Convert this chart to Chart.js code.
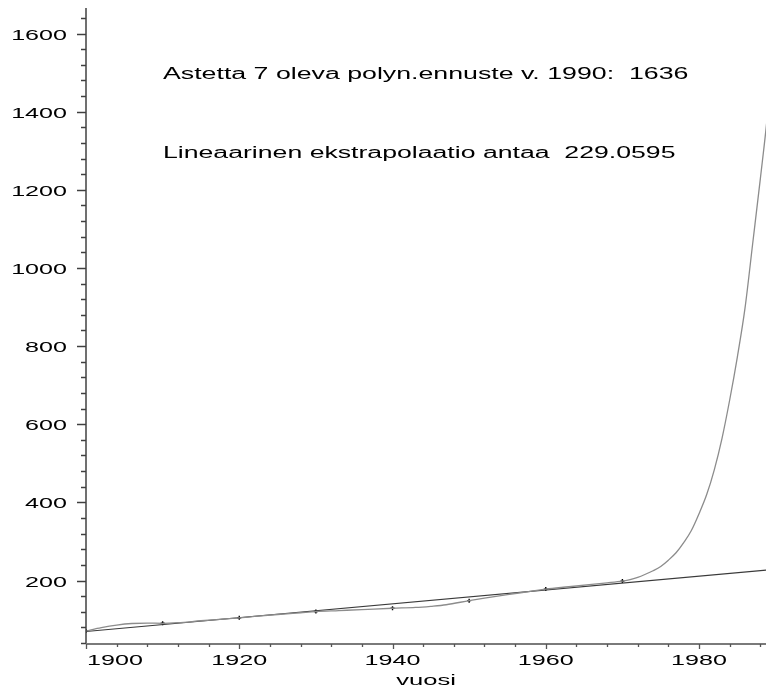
<!DOCTYPE html>
<html>
<head>
<meta charset="utf-8">
<script src="https://cdn.jsdelivr.net/npm/chart.js@4"></script>
<style>
body { margin: 0; background: #fff; overflow: hidden; }
#wrap { position: relative; width: 766px; height: 690px; }
#plot { display: block; }
</style>
</head>
<body>
<div id="wrap"><canvas id="plot"></canvas></div>
<script>
// väestö (milj.) laskentavuosina
const censusYears = [1900, 1910, 1920, 1930, 1940, 1950, 1960, 1970]
const censusValues = [71, 90.5, 104.5, 120.5, 129, 148.5, 178, 198.5]

// asteen 7 polynomi, luettu kuvasta
const polyYears = [1900, 1902, 1904, 1906, 1908, 1910, 1912, 1915, 1918, 1920, 1922, 1925, 1928, 1930,
	1933, 1936, 1940, 1943, 1945, 1947, 1950, 1952, 1955, 1958, 1960, 1963, 1966, 1968, 1970,
	1971, 1972, 1973, 1974, 1975, 1976, 1977, 1978, 1979, 1980, 1981, 1982, 1983, 1984, 1985,
	1986, 1987, 1988, 1989, 1990]
const polyValues = [71, 79.5, 86, 90, 91, 90.5, 92, 97, 101.5, 104.5, 108, 113, 117.5, 120.5,
	123, 125.5, 129, 131, 134, 138, 148.5, 155, 164, 172, 178, 184, 190, 194, 198.5,
	202, 208, 216, 225, 236, 252, 271, 297, 328, 371, 420, 484, 564, 662, 772,
	897, 1062, 1228, 1405, 1636]

// lineaarinen sovitus
const fitYears = [1900, 1990]
const fitValues = [69.5, 229.06]

// akselit
const xTickLabels = [1900, 1920, 1940, 1960, 1980]
const yTickLabels = [200, 400, 600, 800, 1000, 1200, 1400, 1600]
const xTitle = 'vuosi'
const notes = [
	'Astetta 7 oleva polyn.ennuste v. 1990:  1636',
	'Lineaarinen ekstrapolaatio antaa  229.0595',
]

const FONT = '"Liberation Sans", Arial, sans-serif'

function wideText(ctx, text, x, y, align, size, stretch, minLeft) {
	ctx.save()
	ctx.font = `${size}px ${FONT}`
	const w = ctx.measureText(text).width * stretch
	let left = x
	if (align === 'center') left = x - w / 2
	if (align === 'right') left = x - w
	if (minLeft !== undefined && left < minLeft) left = minLeft
	ctx.translate(left, y)
	ctx.scale(stretch, 1)
	ctx.textAlign = 'left'
	ctx.textBaseline = 'alphabetic'
	ctx.fillStyle = '#000'
	ctx.fillText(text, 0, 0)
	ctx.restore()
}

// akselit, merkit ja tekstit
const axesPlugin = {
	id: 'maple-axes',
	afterDraw(chart) {
		const { ctx, chartArea: area, scales: { x, y } } = chart
		const x0 = area.left
		const y0 = area.bottom

		ctx.save()
		// y-akseli
		ctx.strokeStyle = '#404040'
		ctx.lineWidth = 1.5
		ctx.beginPath()
		ctx.moveTo(x0, area.top)
		ctx.lineTo(x0, y0)
		ctx.stroke()
		for (let v = 40; v <= y.max; v += 40) {
			const py = Math.round(y.getPixelForValue(v)) + 0.5
			const len = v % 200 === 0 ? 9 : 5
			ctx.beginPath()
			ctx.moveTo(x0 - len, py)
			ctx.lineTo(x0, py)
			ctx.stroke()
		}

		// x-akseli
		ctx.strokeStyle = '#7a7a7a'
		ctx.lineWidth = 2
		ctx.beginPath()
		ctx.moveTo(x0, y0)
		ctx.lineTo(area.right, y0)
		ctx.stroke()
		ctx.lineWidth = 1.3
		ctx.strokeStyle = '#555'
		for (let v = 1900; v <= x.max; v += 4) {
			const px = Math.round(x.getPixelForValue(v)) + 0.5
			const len = (v - 1900) % 20 === 0 ? 5 : 3
			ctx.beginPath()
			ctx.moveTo(px, y0)
			ctx.lineTo(px, y0 + len)
			ctx.stroke()
		}
		ctx.restore()

		yTickLabels.forEach((v) => {
			wideText(ctx, String(v), 67, y.getPixelForValue(v) + 6, 'right', 15.5, 1.62)
		})
		xTickLabels.forEach((v) => {
			wideText(ctx, String(v), x.getPixelForValue(v), 665, 'center', 15.5, 1.62, x0 + 1)
		})
		wideText(ctx, xTitle, (area.left + area.right) / 2, 685, 'center', 15.5, 1.65)

		wideText(ctx, notes[0], 163, 79, 'left', 16, 1.67)
		wideText(ctx, notes[1], 163, 157.5, 'left', 16, 1.665)
	},
}

const toPoints = (xs, ys) => xs.map((v, i) => ({ x: v, y: ys[i] }))

new Chart(document.getElementById('plot'), {
	type: 'line',
	data: {
		datasets: [
			{
				label: 'polynomi',
				data: toPoints(polyYears, polyValues),
				borderColor: '#8c8c8c',
				borderWidth: 1.3,
				pointRadius: 0,
				cubicInterpolationMode: 'monotone',
			},
			{
				label: 'lineaarinen',
				data: toPoints(fitYears, fitValues),
				borderColor: '#3a3a3a',
				borderWidth: 1.2,
				pointRadius: 0,
			},
			{
				label: 'havainnot',
				data: toPoints(censusYears, censusValues),
				showLine: false,
				pointStyle: 'cross',
				pointRadius: 2,
				borderColor: '#000',
				borderWidth: 1.4,
			},
		],
	},
	options: {
		responsive: true,
		maintainAspectRatio: false,
		animation: false,
		events: [],
		layout: { autoPadding: false, padding: { left: 86, top: 8, right: 0, bottom: 46 } },
		plugins: { legend: { display: false }, tooltip: { enabled: false } },
		scales: {
			x: { type: 'linear', min: 1900, max: 1988.74, display: false },
			y: { type: 'linear', min: 37.5, max: 1665.3, display: false },
		},
	},
	plugins: [axesPlugin],
})
</script>
</body>
</html>
